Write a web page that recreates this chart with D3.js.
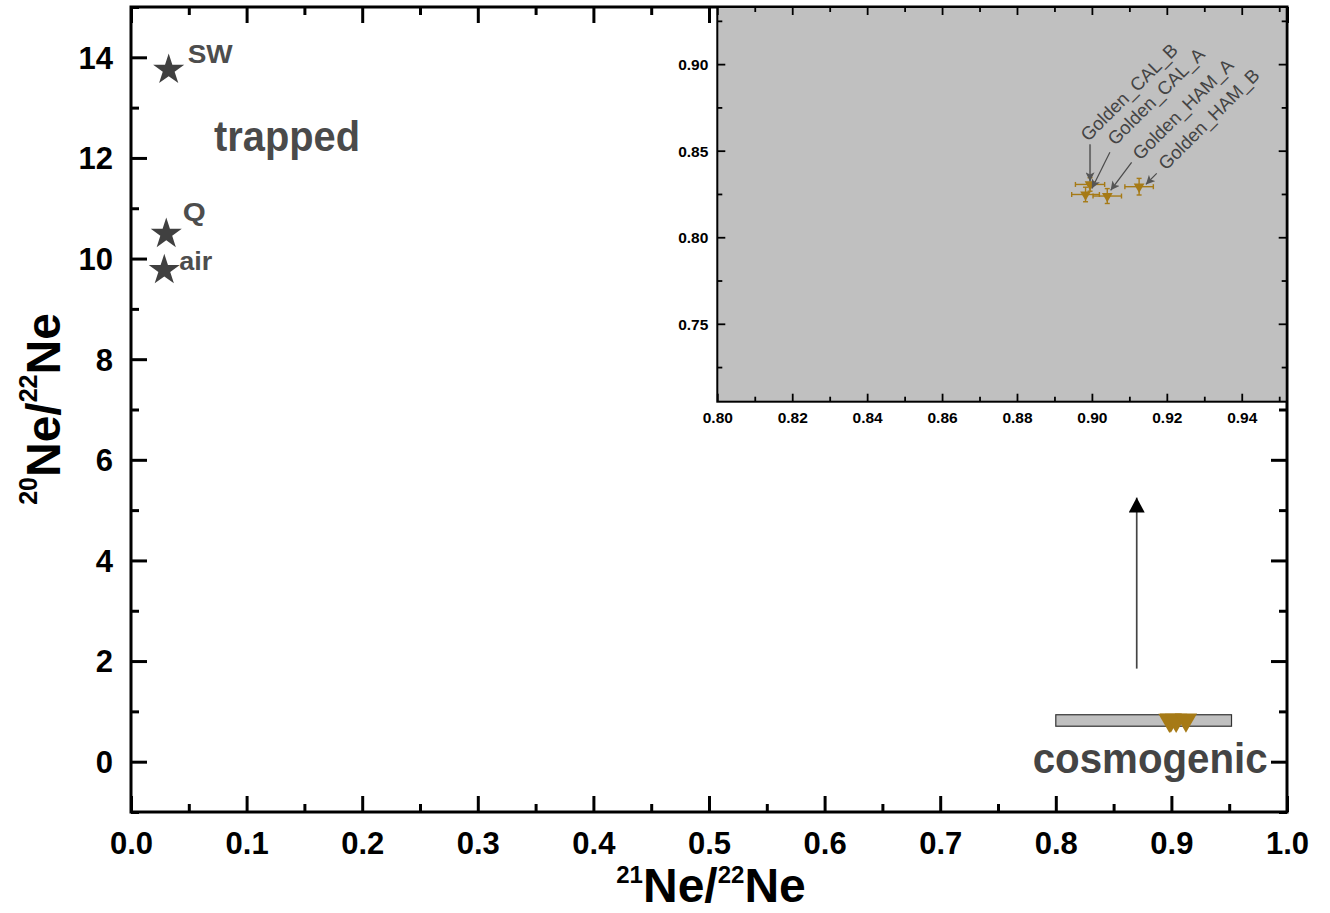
<!DOCTYPE html>
<html>
<head>
<meta charset="utf-8">
<script src="https://cdn.jsdelivr.net/npm/d3@7"></script>
<style>
  html, body { margin: 0; padding: 0; background: #fff; }
  svg { display: block; font-family: "Liberation Sans", Arial, Helvetica, sans-serif; }
</style>
</head>
<body>
<svg id="chart" width="1330" height="913"></svg>
<script>
// ---------------- DATA ----------------
// samples (shown in main plot and in the inset)
const samples   = ["Golden_CAL_B", "Golden_CAL_A", "Golden_HAM_A", "Golden_HAM_B"];
const ne21_22   = [0.8995, 0.8983, 0.9041, 0.9126];
const ne20_22   = [0.8305, 0.8247, 0.8238, 0.8292];
const ne21Err   = [0.0039, 0.0037, 0.0038, 0.0038];
const ne20Err   = [0.0039, 0.0042, 0.0043, 0.0048];

// trapped end-members
const endNames  = ["SW", "Q", "air"];
const end21_22  = [0.0326, 0.0305, 0.0288];
const end20_22  = [13.75, 10.49, 9.77];

// axis ticks
const xMajor  = [0, 0.1, 0.2, 0.3, 0.4, 0.5, 0.6, 0.7, 0.8, 0.9, 1.0];
const xMinor  = [0.05, 0.15, 0.25, 0.35, 0.45, 0.55, 0.65, 0.75, 0.85, 0.95];
const yMajor  = [0, 2, 4, 6, 8, 10, 12, 14];
const yMinor  = [-1, 1, 3, 5, 7, 9, 11, 13, 15];
const ixMajor = [0.80, 0.82, 0.84, 0.86, 0.88, 0.90, 0.92, 0.94];
const ixMinor = [0.81, 0.83, 0.85, 0.87, 0.89, 0.91, 0.93, 0.95];
const iyMajor = [0.75, 0.80, 0.85, 0.90];
const iyMinor = [0.725, 0.775, 0.825, 0.875, 0.925];

// domains
const xDomain  = [0, 1];
const yDomain  = [-1, 15];
const ixDomain = [0.80, 0.952];
const iyDomain = [0.705, 0.933];

// ---------------- LAYOUT ----------------
const svg = d3.select("#chart");
const P = { left: 131, right: 1287, top: 7, bottom: 812 };
const I = { left: 717.3, right: 1286.7, top: 7, bottom: 401.7 };

const x  = d3.scaleLinear(xDomain, [P.left, P.right]);
const y  = d3.scaleLinear(yDomain, [P.bottom, P.top]);
const xi = d3.scaleLinear(ixDomain, [I.left, I.right]);
const yi = d3.scaleLinear(iyDomain, [I.bottom, I.top]);

const gold = "#A67A16";
const darkGray = "#444444";

// defs: arrow markers (path points along +x, i.e. along the line direction)
const defs = svg.append("defs");
defs.append("marker").attr("id", "bigHead")
  .attr("viewBox", "0 0 15 16").attr("refX", 15).attr("refY", 8)
  .attr("markerWidth", 15).attr("markerHeight", 16)
  .attr("markerUnits", "userSpaceOnUse").attr("orient", "auto")
  .append("path").attr("d", "M0,0 L15,8 L0,16 Z").attr("fill", "#000");
defs.append("marker").attr("id", "smallHead")
  .attr("viewBox", "0 0 10 10").attr("refX", 10).attr("refY", 5)
  .attr("markerWidth", 9).attr("markerHeight", 9)
  .attr("markerUnits", "userSpaceOnUse").attr("orient", "auto")
  .append("path").attr("d", "M0,0 L10,5 L0,10 L2.5,5 Z").attr("fill", "#555");

// ---------------- MAIN AXES ----------------
function styleAxis(g, width) {
  g.select(".domain").remove();
  g.selectAll(".tick line").attr("stroke", "#000").attr("stroke-width", width);
}
const fmt1 = d3.format(".1f");

// bottom
svg.append("g").attr("transform", `translate(0,${P.bottom})`)
  .call(d3.axisBottom(x).tickValues(xMajor).tickSize(-16).tickPadding(20).tickFormat(fmt1))
  .call(g => { styleAxis(g, 3);
    g.selectAll("text").attr("font-size", 31).attr("font-weight", "bold")
      .attr("fill", "#000").attr("font-family", null).attr("dy", "0.71em"); });
svg.append("g").attr("transform", `translate(0,${P.bottom})`)
  .call(d3.axisBottom(x).tickValues(xMinor).tickSize(-8).tickFormat(""))
  .call(g => styleAxis(g, 3));
// top
svg.append("g").attr("transform", `translate(0,${P.top})`)
  .call(d3.axisTop(x).tickValues(xMajor).tickSize(-16).tickFormat(""))
  .call(g => styleAxis(g, 3));
svg.append("g").attr("transform", `translate(0,${P.top})`)
  .call(d3.axisTop(x).tickValues(xMinor).tickSize(-8).tickFormat(""))
  .call(g => styleAxis(g, 3));
// left
svg.append("g").attr("transform", `translate(${P.left},0)`)
  .call(d3.axisLeft(y).tickValues(yMajor).tickSize(-16).tickPadding(18).tickFormat(d3.format("d")))
  .call(g => { styleAxis(g, 3);
    g.selectAll("text").attr("font-size", 31).attr("font-weight", "bold")
      .attr("fill", "#000").attr("font-family", null).attr("dy", "0.35em"); });
svg.append("g").attr("transform", `translate(${P.left},0)`)
  .call(d3.axisLeft(y).tickValues(yMinor).tickSize(-8).tickFormat(""))
  .call(g => styleAxis(g, 3));
// right
svg.append("g").attr("transform", `translate(${P.right},0)`)
  .call(d3.axisRight(y).tickValues(yMajor).tickSize(-16).tickFormat(""))
  .call(g => styleAxis(g, 3));
svg.append("g").attr("transform", `translate(${P.right},0)`)
  .call(d3.axisRight(y).tickValues(yMinor).tickSize(-8).tickFormat(""))
  .call(g => styleAxis(g, 3));

// frame
svg.append("rect")
  .attr("x", P.left).attr("y", P.top)
  .attr("width", P.right - P.left).attr("height", P.bottom - P.top)
  .attr("fill", "none").attr("stroke", "#000").attr("stroke-width", 3);

// axis titles
const xt = svg.append("text")
  .attr("x", 711).attr("y", 902).attr("text-anchor", "middle")
  .attr("font-weight", "bold").attr("font-size", 48).attr("fill", "#000");
xt.append("tspan").attr("font-size", 24).attr("dy", -19).text("21");
xt.append("tspan").attr("dy", 19).text("Ne/");
xt.append("tspan").attr("font-size", 24).attr("dy", -19).text("22");
xt.append("tspan").attr("dy", 19).text("Ne");

const yt = svg.append("text")
  .attr("transform", "translate(60,409) rotate(-90)")
  .attr("text-anchor", "middle")
  .attr("font-weight", "bold").attr("font-size", 48).attr("fill", "#000");
yt.append("tspan").attr("font-size", 25).attr("dy", -23).text("20");
yt.append("tspan").attr("dy", 23).text("Ne/");
yt.append("tspan").attr("font-size", 25).attr("dy", -23).text("22");
yt.append("tspan").attr("dy", 23).text("Ne");

// ---------------- MAIN CONTENT ----------------
// end-member stars
const star = d3.symbol(d3.symbolStar, 300);
const endOffsets = [[19, -7], [16.5, -13], [15, 0]];
const endLabelWidths = [45, 23, 33];
endNames.forEach((name, i) => {
  const cx = x(end21_22[i]), cy = y(end20_22[i]);
  svg.append("path").attr("d", star()).attr("transform", `translate(${cx},${cy})`)
    .attr("fill", "#404040");
  svg.append("text").attr("x", cx + endOffsets[i][0]).attr("y", cy + endOffsets[i][1])
    .attr("font-size", 26).attr("font-weight", "bold").attr("fill", "#4d4d4d")
    .attr("textLength", endLabelWidths[i]).attr("lengthAdjust", "spacingAndGlyphs")
    .text(name);
});

// region labels
svg.append("text").attr("x", x(0.0718)).attr("y", y(12.13))
  .attr("font-size", 43).attr("font-weight", "bold").attr("fill", "#4a4a4a")
  .attr("textLength", 146).attr("lengthAdjust", "spacingAndGlyphs")
  .text("trapped");
svg.append("text").attr("x", x(0.78)).attr("y", y(-0.23))
  .attr("font-size", 43).attr("font-weight", "bold").attr("fill", "#444")
  .attr("textLength", 235).attr("lengthAdjust", "spacingAndGlyphs")
  .text("cosmogenic");

// zoom window rectangle (the inset range)
svg.append("rect")
  .attr("x", x(ixDomain[0])).attr("y", y(iyDomain[1]))
  .attr("width", x(ixDomain[1]) - x(ixDomain[0]))
  .attr("height", y(iyDomain[0]) - y(iyDomain[1]))
  .attr("fill", "#c0c0c0").attr("stroke", "#333").attr("stroke-width", 1.2);

// samples in main plot
const triBig = d3.symbol(d3.symbolTriangle, 215);
samples.forEach((s, i) => {
  svg.append("path").attr("d", triBig())
    .attr("transform", `translate(${x(ne21_22[i])},${y(ne20_22[i])}) rotate(180)`)
    .attr("fill", gold);
});

// vertical arrow
svg.append("line")
  .attr("x1", x(0.87)).attr("x2", x(0.87))
  .attr("y1", y(1.85)).attr("y2", y(5.25))
  .attr("stroke", darkGray).attr("stroke-width", 1.7)
  .attr("marker-end", "url(#bigHead)");

// ---------------- INSET ----------------
const inset = svg.append("g");
inset.append("rect")
  .attr("x", I.left).attr("y", I.top)
  .attr("width", I.right - I.left).attr("height", I.bottom - I.top)
  .attr("fill", "#c0c0c0");

const fmt2 = d3.format(".2f");
inset.append("g").attr("transform", `translate(0,${I.bottom})`)
  .call(d3.axisBottom(xi).tickValues(ixMajor).tickSize(-8).tickPadding(10).tickFormat(fmt2))
  .call(g => { styleAxis(g, 1.8);
    g.selectAll("text").attr("font-size", 15.5).attr("font-weight", "bold")
      .attr("fill", "#000").attr("font-family", null).attr("dy", "0.71em"); });
inset.append("g").attr("transform", `translate(0,${I.bottom})`)
  .call(d3.axisBottom(xi).tickValues(ixMinor).tickSize(-5).tickFormat(""))
  .call(g => styleAxis(g, 1.8));
inset.append("g").attr("transform", `translate(0,${I.top})`)
  .call(d3.axisTop(xi).tickValues(ixMajor).tickSize(-8).tickFormat(""))
  .call(g => styleAxis(g, 1.8));
inset.append("g").attr("transform", `translate(0,${I.top})`)
  .call(d3.axisTop(xi).tickValues(ixMinor).tickSize(-5).tickFormat(""))
  .call(g => styleAxis(g, 1.8));
inset.append("g").attr("transform", `translate(${I.left},0)`)
  .call(d3.axisLeft(yi).tickValues(iyMajor).tickSize(-8).tickPadding(9).tickFormat(fmt2))
  .call(g => { styleAxis(g, 1.8);
    g.selectAll("text").attr("font-size", 15.5).attr("font-weight", "bold")
      .attr("fill", "#000").attr("font-family", null).attr("dy", "0.35em"); });
inset.append("g").attr("transform", `translate(${I.left},0)`)
  .call(d3.axisLeft(yi).tickValues(iyMinor).tickSize(-5).tickFormat(""))
  .call(g => styleAxis(g, 1.8));
inset.append("g").attr("transform", `translate(${I.right},0)`)
  .call(d3.axisRight(yi).tickValues(iyMajor).tickSize(-8).tickFormat(""))
  .call(g => styleAxis(g, 1.8));
inset.append("g").attr("transform", `translate(${I.right},0)`)
  .call(d3.axisRight(yi).tickValues(iyMinor).tickSize(-5).tickFormat(""))
  .call(g => styleAxis(g, 1.8));

inset.append("rect")
  .attr("x", I.left).attr("y", I.top)
  .attr("width", I.right - I.left).attr("height", I.bottom - I.top)
  .attr("fill", "none").attr("stroke", "#000").attr("stroke-width", 2);

// error bars + markers
const triSmall = d3.symbol(d3.symbolTriangle, 50);
const cap = 2.5;
samples.forEach((s, i) => {
  const cx = xi(ne21_22[i]), cy = yi(ne20_22[i]);
  const x0 = xi(ne21_22[i] - ne21Err[i]), x1 = xi(ne21_22[i] + ne21Err[i]);
  const y0 = yi(ne20_22[i] - ne20Err[i]), y1 = yi(ne20_22[i] + ne20Err[i]);
  const eb = inset.append("g").attr("stroke", gold).attr("stroke-width", 1.4).attr("fill", "none");
  eb.append("line").attr("x1", x0).attr("x2", x1).attr("y1", cy).attr("y2", cy);
  eb.append("line").attr("x1", x0).attr("x2", x0).attr("y1", cy - cap).attr("y2", cy + cap);
  eb.append("line").attr("x1", x1).attr("x2", x1).attr("y1", cy - cap).attr("y2", cy + cap);
  eb.append("line").attr("x1", cx).attr("x2", cx).attr("y1", y0).attr("y2", y1);
  eb.append("line").attr("x1", cx - cap).attr("x2", cx + cap).attr("y1", y0).attr("y2", y0);
  eb.append("line").attr("x1", cx - cap).attr("x2", cx + cap).attr("y1", y1).attr("y2", y1);
});
samples.forEach((s, i) => {
  inset.append("path").attr("d", triSmall())
    .attr("transform", `translate(${xi(ne21_22[i])},${yi(ne20_22[i])}) rotate(180)`)
    .attr("fill", gold);
});

// sample labels with arrows (annotation layout, inset coordinates)
const labelAnchors = [[0.8990, 0.8549], [0.9062, 0.8525], [0.9129, 0.8440], [0.9198, 0.8382]];
const arrowTails   = [[0.8995, 0.8537], [0.9048, 0.8491], [0.9106, 0.8433], [0.9173, 0.8369]];
const arrowHeads   = [[0.8995, 0.8323], [0.9000, 0.8282], [0.9050, 0.8271], [0.9144, 0.8305]];
samples.forEach((s, i) => {
  inset.append("line")
    .attr("x1", xi(arrowTails[i][0])).attr("y1", yi(arrowTails[i][1]))
    .attr("x2", xi(arrowHeads[i][0])).attr("y2", yi(arrowHeads[i][1]))
    .attr("stroke", i === 0 ? "#6e6e6e" : "#4a4a4a")
    .attr("stroke-width", i === 0 ? 2 : 1.2)
    .attr("marker-end", "url(#smallHead)");
  inset.append("text")
    .attr("transform", `translate(${xi(labelAnchors[i][0])},${yi(labelAnchors[i][1])}) rotate(-45)`)
    .attr("font-size", 18.5).attr("fill", "#444")
    .text(s);
});
</script>
</body>
</html>
